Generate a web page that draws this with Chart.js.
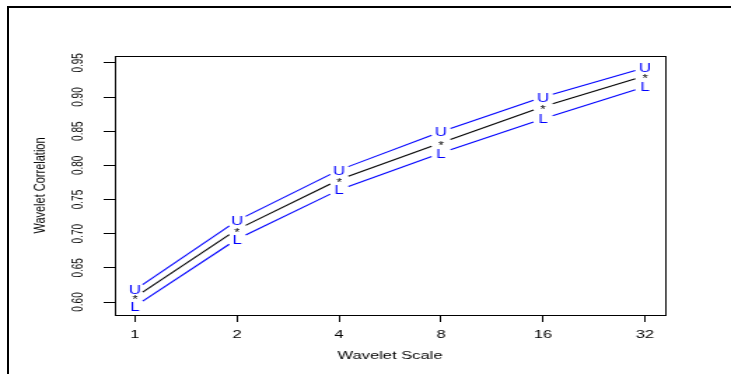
<!DOCTYPE html>
<html>
<head>
<meta charset="utf-8">
<script src="https://cdn.jsdelivr.net/npm/chart.js@4.4.1/dist/chart.umd.min.js"></script>
<style>
  html, body { margin: 0; padding: 0; background: #fff; overflow: hidden; }
  #wrap { position: absolute; left: 0; top: 0; width: 522px; height: 374px; transform: scaleX(1.40038); transform-origin: 0 0; }
  #c { width: 522px; height: 374px; display: block; }
  #frame { position: absolute; left: 7px; top: 6px; width: 900px; height: 600px; border-left: 2px solid #000; border-top: 2px solid #000; }
</style>
</head>
<body>
<div id="wrap"><canvas id="c" width="522" height="374"></canvas></div>
<div id="frame"></div>
<script>
// ---- data ----
const scales      = [1, 2, 4, 8, 16, 32];
const correlation = [0.607, 0.706, 0.779, 0.833, 0.886, 0.931];
const upperCI     = [0.618, 0.719, 0.793, 0.849, 0.900, 0.943];
const lowerCI     = [0.594, 0.692, 0.764, 0.818, 0.868, 0.915];
const yTicks      = [0.60, 0.65, 0.70, 0.75, 0.80, 0.85, 0.90, 0.95];
const xTitle = 'Wavelet Scale';
const yTitle = 'Wavelet Correlation';

const GAP = 7.5;

const marksPlugin = {
  id: 'marks',
  afterDatasetsDraw(chart) {
    const ctx = chart.ctx;
    chart.data.datasets.forEach((ds, di) => {
      const pts = chart.getDatasetMeta(di).data;
      ctx.save();
      ctx.strokeStyle = ds.lineColor;
      ctx.lineWidth = 1.1;
      for (let i = 0; i < pts.length - 1; i++) {
        const a = pts[i], b = pts[i + 1];
        const dx = b.x - a.x, dy = b.y - a.y, L = Math.hypot(dx, dy);
        const ux = dx / L, uy = dy / L;
        ctx.beginPath();
        ctx.moveTo(a.x + ux * GAP, a.y + uy * GAP);
        ctx.lineTo(b.x - ux * GAP, b.y - uy * GAP);
        ctx.stroke();
      }
      ctx.font = ds.symbolFont;
      ctx.fillStyle = ds.symbolColor;
      ctx.textAlign = 'center';
      ctx.textBaseline = 'alphabetic';
      const m = ctx.measureText(ds.symbol);
      const off = (m.actualBoundingBoxAscent - m.actualBoundingBoxDescent) / 2;
      pts.forEach(p => ctx.fillText(ds.symbol, p.x, p.y + off));
      ctx.restore();
    });
  },
  afterDraw(chart) {
    const {ctx, chartArea: a} = chart;
    ctx.save();
    ctx.strokeStyle = '#000';
    ctx.lineWidth = 1;
    ctx.strokeRect(Math.round(a.left) + 0.5, Math.round(a.top) + 0.5, Math.round(a.right - a.left), Math.round(a.bottom - a.top));
    ctx.restore();
  }
};

const toXY = arr => arr.map((v, i) => ({x: scales[i], y: v}));

new Chart(document.getElementById('c'), {
  type: 'line',
  data: {
    datasets: [
      { label: 'Upper', data: toXY(upperCI), showLine: false, pointRadius: 0,
        lineColor: '#0000ff', symbol: 'U', symbolColor: '#0000ff', symbolFont: '12px "Liberation Sans", Arial, sans-serif' },
      { label: 'Correlation', data: toXY(correlation), showLine: false, pointRadius: 0,
        lineColor: '#000000', symbol: '*', symbolColor: '#000000', symbolFont: '10px "Liberation Sans", Arial, sans-serif' },
      { label: 'Lower', data: toXY(lowerCI), showLine: false, pointRadius: 0,
        lineColor: '#0000ff', symbol: 'L', symbolColor: '#0000ff', symbolFont: '12px "Liberation Sans", Arial, sans-serif' }
    ]
  },
  options: {
    responsive: false,
    animation: false,
    events: [],
    layout: { padding: { left: 0, top: 56, right: 47, bottom: 0 } },
    plugins: { legend: { display: false }, tooltip: { enabled: false } },
    scales: {
      x: {
        type: 'logarithmic',
        min: 0.872, max: 36.7,
        afterBuildTicks: s => { s.ticks = scales.map(v => ({value: v})); },
        afterFit: s => { s.height = 59; },
        grid: { drawOnChartArea: false, drawTicks: true, tickLength: 7, color: '#000', lineWidth: 1 },
        border: { display: true, color: '#000', width: 1 },
        ticks: { autoSkip: false, maxRotation: 0, minRotation: 0, padding: 6, color: '#000',
                 font: { family: '"Liberation Sans", Arial, sans-serif', size: 11.8 },
                 callback: v => String(v) },
        title: { display: true, text: xTitle, color: '#000', padding: { top: 0, bottom: 11 },
                 font: { family: '"Liberation Sans", Arial, sans-serif', size: 11.8 } }
      },
      y: {
        type: 'linear',
        min: 0.581, max: 0.960,
        afterBuildTicks: s => { s.ticks = yTicks.map(v => ({value: v})); },
        afterFit: s => { s.width = 82; },
        grid: { drawOnChartArea: false, drawTicks: true, tickLength: 8, color: '#000', lineWidth: 1 },
        border: { display: true, color: '#000', width: 1 },
        ticks: { autoSkip: false, minRotation: 90, maxRotation: 90, crossAlign: 'center', padding: 8.5, color: '#000',
                 font: { family: '"Liberation Sans", Arial, sans-serif', size: 10 },
                 callback: v => Number(v).toFixed(2) },
        title: { display: true, text: yTitle, color: '#000', padding: { top: 22, bottom: 0 },
                 font: { family: '"Liberation Sans", Arial, sans-serif', size: 11 } }
      }
    }
  },
  plugins: [marksPlugin]
});
</script>
</body>
</html>
